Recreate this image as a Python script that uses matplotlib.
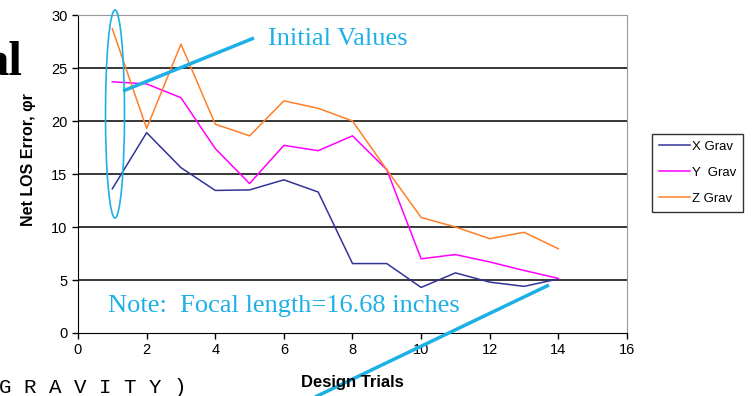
import matplotlib.pyplot as plt
from matplotlib.patches import Ellipse

trials = [1, 2, 3, 4, 5, 6, 7, 8, 9, 10, 11, 12, 13, 14]
x_grav = [13.6, 18.9, 15.6, 13.45, 13.5, 14.45, 13.3, 6.55, 6.55, 4.3, 5.67, 4.8, 4.4, 5.1]
y_grav = [23.7, 23.5, 22.2, 17.4, 14.1, 17.7, 17.2, 18.6, 15.4, 7.0, 7.4, 6.7, 5.9, 5.15]
z_grav = [28.7, 19.3, 27.25, 19.7, 18.6, 21.9, 21.2, 20.0, 15.4, 10.9, 10.0, 8.9, 9.5, 7.95]

series = [("X Grav", x_grav, "#333399"), ("Y  Grav", y_grav, "#ff00ff"), ("Z Grav", z_grav, "#ff7f27")]
cyan = "#1cb0e6"

W, H = 752, 396
fig = plt.figure(figsize=(W / 100, H / 100), dpi=100, facecolor="white")
ax = fig.add_axes([78 / W, 1 - 333 / H, (627 - 78) / W, (333 - 15) / H])

for name, vals, col in series:
    ax.plot(trials, vals, color=col, lw=1.1, label=name)

ax.set_xlim(0, 16)
ax.set_ylim(0, 30)
ax.set_xticks(range(0, 17, 2))
ax.set_yticks(range(0, 31, 5))
for y in range(5, 30, 5):
    ax.axhline(y, color="black", lw=1.1, zorder=0)
for s in ["top", "right"]:
    ax.spines[s].set_color("#999999")
ax.spines["left"].set_color("black")
ax.spines["bottom"].set_color("black")
ax.tick_params(direction="out", length=4, width=1, labelsize=10.5, colors="black")
for lbl in ax.get_xticklabels() + ax.get_yticklabels():
    lbl.set_family("Liberation Sans")

fig.text(29 / W, 1 - 160 / H, "Net LOS Error, \u03c6r", rotation=90, ha="center", va="center",
         fontsize=11.5, fontweight="bold", family="Liberation Sans")
fig.text(352 / W, 1 - 383 / H, "Design Trials", ha="center", va="center",
         fontsize=12, fontweight="bold", family="Liberation Sans")

leg = fig.legend(loc="upper left", bbox_to_anchor=(652 / W, 1 - 134 / H), frameon=True,
                 fancybox=False, edgecolor="black", handlelength=2.4,
                 handletextpad=0.15, borderpad=0.5, labelspacing=1.05, borderaxespad=0,
                 prop={"family": "Liberation Sans", "size": 9.5})
leg.get_frame().set_linewidth(1.0)

# slide decorations
fig.text(-16 / W, 1 - 75 / H, "al", ha="left", va="baseline", fontsize=35, fontweight="bold",
         family="Liberation Serif")
fig.text(-1 / W, 1 - 393 / H, "G R A V I T Y )", ha="left", va="baseline", fontsize=15,
         family="Liberation Mono")

ov = fig.add_axes([0, 0, 1, 1], facecolor="none")
ov.set_xlim(0, W)
ov.set_ylim(H, 0)
ov.axis("off")
ov.add_patch(Ellipse((115, 114), 19, 208, fill=False, edgecolor=cyan, lw=1.2))
ov.plot([123, 254], [91, 38], color=cyan, lw=2.5, solid_capstyle="butt")
ov.plot([313, 549], [398, 285], color=cyan, lw=2.5, solid_capstyle="butt")
ov.text(268, 39, "Initial Values", color=cyan, fontsize=19, family="Liberation Serif",
        ha="left", va="center")
ov.text(108, 306, "Note:  Focal length=16.68 inches", color=cyan, fontsize=19,
        family="Liberation Serif", ha="left", va="center")

fig.savefig("out.png", dpi=100)
